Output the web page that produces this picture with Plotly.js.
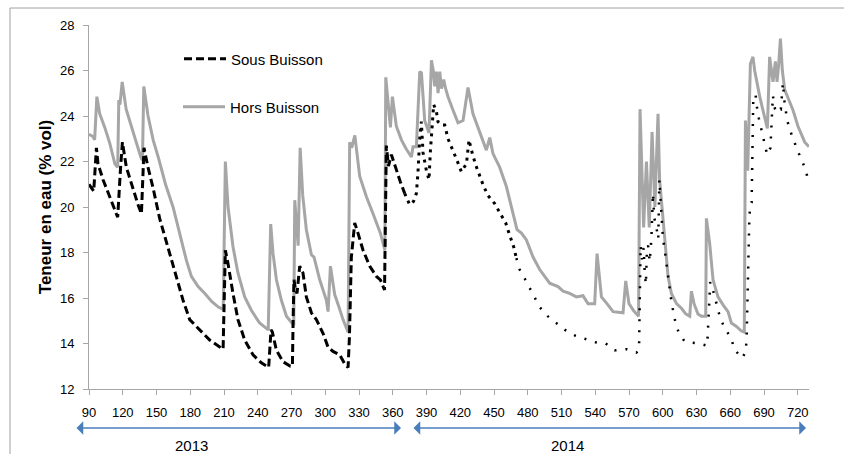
<!DOCTYPE html>
<html>
<head>
<meta charset="utf-8">
<script src="https://cdn.plot.ly/plotly-3.0.1.min.js"></script>
<style>html,body{margin:0;padding:0;background:#fff;}#chart{width:844px;height:454px;}</style>
</head>
<body>
<div id="chart"></div>
<script>
// Day numbers (x) and soil water content (% vol)
const horsDays = [90,93.5,95,97,99.5,104,108.5,113,115.5,116.5,117.5,119.5,123,128,132,136,137.5,138.7,142.5,147,151.5,158,164.7,170.6,176.6,181,187,193,199,205,209.3,211.2,213.6,218,222.4,228.4,234.4,241.7,249.3,251.5,253.6,256.6,261,265.5,270.5,272,272.9,275.9,277.7,280,283.2,287.7,290,295.1,301,302.5,304.6,308.4,312.2,315.8,320.3,321.7,323.5,325.5,326.3,330.6,336.6,342.5,349,353,353.8,357.9,359.7,363.2,367.7,372,376.6,378,381,384,385.5,388.4,392.2,394.4,396,397.3,398.8,400.3,401.8,403.3,405.3,407,409.1,413.6,418,422.5,426.9,431.3,437.3,443.2,446.2,449.1,455,461,466,470.5,474.4,478.8,484.7,490.6,499.5,506.9,511.4,517.3,523.2,529.1,533.6,539.5,541.6,545.5,551.3,555.8,564.7,567.1,570,574,578.5,579.8,583,585.5,588,590.5,593,595.8,597.2,600,602.2,604.7,607.7,612.2,616.6,620.4,624,625.5,627.8,631.3,634.4,638.2,638.8,641.7,644.7,649.1,653.6,658,661,665.5,669.9,672.5,673.5,675.5,677.9,680.2,681.7,683.8,686.2,689.1,692.1,693,695,696.6,698,700.1,701.6,703,704.6,706.3,708.4,711.3,715.8,720.2,723.3,726.2,730];
const horsVals = [23.2,23.1,22.95,24.85,24.1,23.5,22.8,21.9,21.75,24.7,24.5,25.5,24.3,23.5,22.8,22.2,22.05,25.3,24.0,22.95,22.2,21.0,20.0,18.85,17.65,16.95,16.5,16.2,15.85,15.6,15.5,22.0,20.0,18.25,17.1,16.05,15.45,14.9,14.6,19.25,17.95,16.8,15.9,15.2,14.85,14.8,20.3,18.3,22.6,20.5,19.0,17.9,17.8,16.8,15.9,15.4,17.4,16.15,15.6,15.05,14.5,22.85,22.6,23.1,23.15,21.35,20.45,19.7,18.85,18.1,25.7,23.5,24.85,23.55,22.95,22.55,22.2,22.65,22.65,25.95,25.9,23.8,23.25,26.45,26.0,25.3,25.95,25.0,25.95,25.2,25.6,25.2,24.85,24.25,23.7,23.8,25.25,24.1,23.25,22.5,23.05,22.35,21.75,20.9,19.9,19.0,18.85,18.55,17.8,17.25,16.65,16.5,16.3,16.2,16.05,16.1,15.75,15.75,17.95,16.05,15.7,15.4,15.35,16.75,15.75,15.45,15.2,24.3,19.1,22.0,19.1,23.3,20.0,24.1,21.2,19.6,18.25,16.95,16.2,15.75,15.55,15.3,15.2,16.3,15.75,15.3,15.2,15.2,19.5,18.4,16.8,16.05,15.7,15.4,14.9,14.75,14.55,14.5,23.8,21.6,26.3,26.6,26.0,25.4,24.85,24.25,23.7,23.45,26.6,25.9,25.5,26.4,25.5,26.25,27.4,26.0,25.15,24.8,24.25,23.55,23.15,22.85,22.65];

const sousDays = [90,92,94.2,96.6,98,102.5,108.4,112.8,115.5,117.9,119.7,123.2,129.1,133.6,136.6,138.9,142.4,146.9,152.8,160.2,167.7,173.6,179.5,188.4,197.3,206.2,209.2,211.2,213.6,218,222.4,228.4,235.8,243.2,249.7,251.8,253,256.6,262.5,269,270.8,271.5,272.2,273.5,274.9,277.3,280.2,283.2,287.7,292.1,298,302.4,306.9,312.9,317.3,320.3,321.5,323.2,326.2,329.1,333.6,339.5,345.5,349,352.7,354.3,356.2,358.8,363.2,366.8,370.6,375,378.5,381,382.4,383.9,385.4,386.9,389.9,392.2,393.5,395.2,396.4,398.8,400.2,403.2,406.2,409.1,413.6,417.1,421,425.5,427.8,429.9,433.7,437.3,440.5,444.7,450.6,455.7,460.4,464,467.5,469.9,472.8,477.9,482.4,487.1,490.6,497.7,505.5,513.1,522,531.5,540.4,549.3,557.3,567.6,576.6,578.9,579.5,580.3,581.5,583,584,585,586,587,588.4,589.9,591.3,592.5,593.7,596,597,598,598.8,600.2,601.8,603.2,604.1,605.6,607.1,609,611,614,619.3,624.4,632.4,639.5,640.5,642.2,645.5,648,650.6,654.7,660.7,663.6,670.5,673.4,674.5,677,678,679,680.5,682.6,683.5,685.4,687.7,690,692.8,695.7,696.6,697.9,699.8,701.7,703,705,706.8,708.2,710.6,715,721,727,730];
const sousVals = [21.0,20.85,20.7,22.6,21.9,21.2,20.45,19.85,19.55,21.6,22.85,21.75,20.75,20.1,19.7,22.6,21.75,20.85,19.5,18.25,16.95,15.9,15.05,14.6,14.15,13.85,13.75,18.1,17.5,16.2,15.05,14.15,13.5,13.15,12.95,14.6,14.5,13.7,13.2,13.0,13.0,15.2,16.8,16.4,16.2,17.4,17.1,16.05,15.35,15.05,14.45,13.85,13.65,13.5,13.1,12.95,14.3,17.8,19.3,18.85,18.1,17.4,16.95,16.8,16.35,22.7,21.8,22.3,21.6,21.1,20.6,20.1,20.25,20.6,21.5,22.95,23.75,22.4,21.6,21.2,22.5,23.95,24.5,24.2,23.75,23.6,23.6,23.0,22.5,22.05,21.55,21.9,22.95,22.5,21.85,21.35,20.95,20.5,20.15,19.7,19.3,18.75,18.25,17.75,17.25,16.8,16.35,15.9,15.6,15.2,14.9,14.6,14.35,14.2,14.05,14.0,13.7,13.75,13.6,13.7,15.2,18.3,17.7,18.2,17.1,16.6,18.2,18.3,17.6,18.6,20.6,19.5,19.3,18.6,21.2,20.3,19.65,18.6,18.1,17.55,17.05,16.55,16.05,15.5,15.0,14.5,14.1,14.05,14.0,13.9,15.2,16.7,16.2,15.7,15.2,14.7,14.25,13.75,13.35,13.6,14.1,19.6,20.1,20.2,24.9,24.9,24.45,23.9,23.4,22.85,22.3,22.6,23.4,24.9,24.3,24.2,24.35,24.3,25.45,24.65,23.8,23.1,22.35,21.65,21.0];

const xTickVals = [90,120,150,180,210,240,270,300,330,360,390,420,450,480,510,540,570,600,630,660,690,720];
const yTickVals = [12,14,16,18,20,22,24,26,28];
const seriesNames = ['Sous Buisson', 'Hors Buisson'];
const yearLabels = ['2013', '2014'];
const yTitle = 'Teneur en eau (% vol)';

// The dashed black line changes its look along the record (long dashes, short dashes, dots)
function part(lo, hi) {
  const xs = [], ys = [];
  sousDays.forEach((d, i) => { if (d >= lo && d <= hi) { xs.push(d); ys.push(sousVals[i]); } });
  return {xs, ys};
}
const p1 = part(0, 370.6), p2 = part(370.6, 469.9), p3 = part(469.9, 1000);

const FONT = 'Liberation Sans, Arial, sans-serif';
const traces = [
  {x: horsDays, y: horsVals, type: 'scatter', mode: 'lines', name: seriesNames[1], legend: 'legend2',
   line: {color: '#A6A6A6', width: 3}, hoverinfo: 'skip'},
  {x: p1.xs, y: p1.ys, type: 'scatter', mode: 'lines', name: seriesNames[0], legend: 'legend',
   line: {color: '#000000', width: 3, dash: '8px,4px'}, hoverinfo: 'skip'},
  {x: p2.xs, y: p2.ys, type: 'scatter', mode: 'lines', name: seriesNames[0], showlegend: false,
   line: {color: '#000000', width: 3, dash: '3px,5px'}, hoverinfo: 'skip'},
  {x: p3.xs, y: p3.ys, type: 'scatter', mode: 'lines', name: seriesNames[0], showlegend: false,
   line: {color: '#000000', width: 2.5, dash: '2px,9px'}, hoverinfo: 'skip'}
];

const W = 720, H = 364, L = 89, T = 25;
const px = v => (v - L) / W;          // pixel x -> paper x
const py = v => (T + H - v) / H;      // pixel y -> paper y

const arrowCommon = {xref: 'paper', yref: 'paper', text: '', showarrow: true, arrowside: 'end+start',
  arrowhead: 1, startarrowhead: 1, arrowsize: 1.4, startarrowsize: 1.4, arrowwidth: 1.6,
  arrowcolor: '#4A7EBB', ay: 0, standoff: 0, startstandoff: 0};

const layout = {
  width: 844, height: 454,
  margin: {l: L, r: 844 - L - W, t: T, b: 454 - T - H},
  paper_bgcolor: '#ffffff', plot_bgcolor: '#ffffff',
  font: {family: FONT, size: 13, color: '#000000'},
  xaxis: {range: [90, 730], tickmode: 'array', tickvals: xTickVals, ticktext: xTickVals.map(String),
    showgrid: false, zeroline: false, showline: true, linecolor: '#A6A6A6', linewidth: 1,
    ticks: 'outside', ticklen: 5, tickcolor: '#A6A6A6', ticklabelstandoff: 6,
    tickfont: {size: 13, family: FONT, color: '#000'}},
  yaxis: {range: [12, 28], tickmode: 'array', tickvals: yTickVals, ticktext: yTickVals.map(String),
    showgrid: false, zeroline: false, showline: true, linecolor: '#A6A6A6', linewidth: 1,
    ticks: 'outside', ticklen: 5, tickcolor: '#A6A6A6', ticklabelstandoff: 6,
    tickfont: {size: 13, family: FONT, color: '#000'},
    title: {text: yTitle, font: {size: 17, family: FONT, color: '#000', weight: 'bold'}, standoff: 3}},
  legend: {x: px(179), y: py(59), xanchor: 'left', yanchor: 'middle', bgcolor: 'rgba(0,0,0,0)',
    font: {size: 15, family: FONT, color: '#000'}, itemwidth: 42},
  legend2: {x: px(178), y: py(107), xanchor: 'left', yanchor: 'middle', bgcolor: 'rgba(0,0,0,0)',
    font: {size: 15, family: FONT, color: '#000'}, itemwidth: 42},
  shapes: [
    {type: 'line', xref: 'paper', yref: 'paper', x0: px(10), x1: px(10), y0: py(8), y1: py(470),
     line: {color: '#A0A0A0', width: 1}},
    {type: 'line', xref: 'paper', yref: 'paper', x0: px(10), x1: px(860), y0: py(8), y1: py(8),
     line: {color: '#A0A0A0', width: 1}}
  ],
  annotations: [
    Object.assign({x: px(401), y: py(428), ax: -(401 - 75)}, arrowCommon),
    Object.assign({x: px(806), y: py(428), ax: -(806 - 412)}, arrowCommon),
    {xref: 'paper', yref: 'paper', x: px(191), y: py(446), xanchor: 'center', yanchor: 'middle',
     text: yearLabels[0], showarrow: false, font: {size: 15, family: FONT, color: '#000'}},
    {xref: 'paper', yref: 'paper', x: px(567), y: py(446), xanchor: 'center', yanchor: 'middle',
     text: yearLabels[1], showarrow: false, font: {size: 15, family: FONT, color: '#000'}}
  ],
  showlegend: true
};

Plotly.newPlot('chart', traces, layout, {staticPlot: true, displayModeBar: false});
</script>
</body>
</html>
